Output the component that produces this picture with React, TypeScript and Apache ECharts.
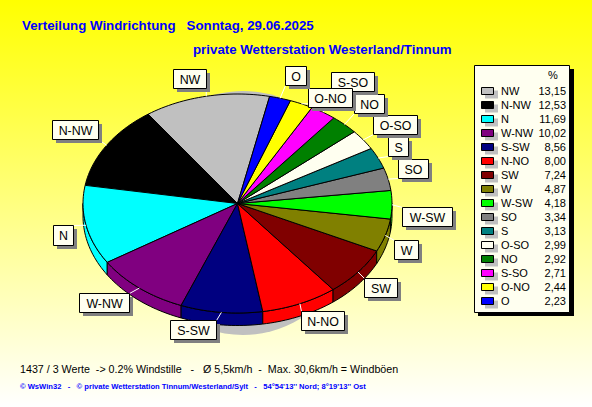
import React, { useEffect, useRef } from "react";
import * as echarts from "echarts";

const categories = ["NW", "N-NW", "N", "W-NW", "S-SW", "N-NO", "SW", "W", "W-SW", "SO", "S", "O-SO", "NO", "S-SO", "O-NO", "O"];
const percentValues = [13.15, 12.53, 11.69, 10.02, 8.56, 8.0, 7.24, 4.87, 4.18, 3.34, 3.13, 2.99, 2.92, 2.71, 2.44, 2.23];
const percentLabels = ["13,15", "12,53", "11,69", "10,02", "8,56", "8,00", "7,24", "4,87", "4,18", "3,34", "3,13", "2,99", "2,92", "2,71", "2,44", "2,23"];
const sliceColors = ["#C0C0C0", "#000000", "#00FFFF", "#800080", "#000080", "#FF0000", "#800000", "#808000", "#00FF00", "#808080", "#008080", "#FFFFF0", "#008000", "#FF00FF", "#FFFF00", "#0000FF"];
// label boxes: x0, y0, x1, y1
const labelBoxes: number[][] = [
  [173.5, 69.5, 206.5, 88.5], [52.5, 120.5, 98.5, 139.5], [53.5, 225.5, 73.5, 245.5], [79.5, 293.5, 129.5, 312.5],
  [170.5, 320.5, 216.5, 339.5], [301.5, 311.5, 344.5, 330.5], [364.5, 278.5, 397.5, 297.5], [394.5, 240.5, 418.5, 259.5],
  [402.5, 207.5, 452.5, 226.5], [398.5, 159.5, 428.5, 178.5], [388.5, 137.5, 408.5, 156.5], [373.5, 115.5, 417.5, 134.5],
  [354.5, 94.5, 384.5, 113.5], [331.5, 72.5, 374.5, 91.5], [308.5, 88.5, 352.5, 107.5], [285.5, 66.5, 306.5, 85.5],
];

const CX = 237.5, CY = 203.5, RX = 154.5, RY = 109.5, DEPTH = 12.5, START_DEG = 12;
const FONT = "'Liberation Sans', Arial, sans-serif";
const BLUE = "#0000FF";

// legend order runs counter-clockwise from the start angle
const total = percentValues.reduce((a, b) => a + b, 0);
const angleRange = (i: number): [number, number] => {
  let after = 0;
  for (let k = 0; k < i; k++) after += percentValues[k];
  const end = START_DEG + 360 - (after / total) * 360;
  return [end - (percentValues[i] / total) * 360, end];
};
const pt = (deg: number, dy = 0): [number, number] => {
  const r = (deg * Math.PI) / 180;
  return [CX + RX * Math.sin(r), CY - RY * Math.cos(r) + dy];
};
const arc = (a0: number, a1: number, dy = 0): [number, number][] => {
  const n = Math.max(2, Math.ceil((a1 - a0) / 1.5));
  const out: [number, number][] = [];
  for (let k = 0; k <= n; k++) out.push(pt(a0 + ((a1 - a0) * k) / n, dy));
  return out;
};
const polyEl = (points: [number, number][], fill: string) => ({
  type: "polygon",
  shape: { points },
  style: { fill, stroke: "#000", lineWidth: 1 },
});

export default function App() {
  const ref = useRef<HTMLDivElement>(null);
  useEffect(() => {
    document.body.style.margin = "0";
    const chart = echarts.init(ref.current!, undefined, { renderer: "svg" });
    const data = percentValues.map((v, i) => ({ name: categories[i], value: v }));

    const legendRows: any[] = [];
    categories.forEach((name, i) => {
      const y = 91 + i * 14;
      legendRows.push(
        { type: "rect", shape: { x: 485, y: y - 0.5, width: 13, height: 8 }, style: { fill: "#C0C0C0" } },
        { type: "rect", shape: { x: 481.5, y: y - 3.5, width: 12, height: 7 }, style: { fill: sliceColors[i], stroke: "#000", lineWidth: 1 } },
        { type: "text", x: 501, y, style: { text: name, font: `11px ${FONT}`, fill: "#000", align: "left", verticalAlign: "middle" } },
        { type: "text", x: 566, y, style: { text: percentLabels[i], font: `11px ${FONT}`, fill: "#000", align: "right", verticalAlign: "middle" } },
      );
    });

    chart.setOption({
      animation: false,
      backgroundColor: new echarts.graphic.LinearGradient(0, 0, 0, 1, [
        { offset: 0, color: "#FFFF00" },
        { offset: 1, color: "#FFFFFF" },
      ]),
      series: [
        {
          type: "custom", coordinateSystem: "none", silent: true, z: 1, data,
          renderItem: (p: any) => {
            const [a0, a1] = angleRange(p.dataIndex);
            const children: any[] = [];
            if (p.dataIndex === 0) {
              children.push({ type: "ellipse", shape: { cx: 243, cy: 213, rx: 115, ry: 122 }, style: { fill: "#C0C0C0" } });
            }
            for (const off of [0, 360]) {
              const s = Math.max(a0, 90 + off), e = Math.min(a1, 270 + off);
              if (e > s) children.push(polyEl([...arc(s, e), ...arc(s, e, DEPTH).reverse()], sliceColors[p.dataIndex]));
            }
            return { type: "group", children };
          },
        },
        {
          type: "custom", coordinateSystem: "none", silent: true, z: 2, data,
          renderItem: (p: any) => {
            const [a0, a1] = angleRange(p.dataIndex);
            return polyEl([[CX, CY], ...arc(a0, a1)], sliceColors[p.dataIndex]);
          },
        },
        {
          type: "custom", coordinateSystem: "none", silent: true, z: 3, data,
          renderItem: (p: any) => {
            const [a0, a1] = angleRange(p.dataIndex);
            const [x, y] = pt((a0 + a1) / 2);
            const [bx0, by0, bx1, by1] = labelBoxes[p.dataIndex];
            const ex = Math.min(Math.max(x, bx0), bx1), ey = Math.min(Math.max(y, by0), by1);
            return {
              type: "group",
              children: [
                { type: "line", shape: { x1: x, y1: y, x2: ex, y2: ey }, style: { stroke: "#FFFFFF", lineWidth: 1 } },
                { type: "rect", shape: { x: bx0 + 3.5, y: by0 + 3.5, width: bx1 - bx0, height: by1 - by0 }, style: { fill: "#808080" } },
                { type: "rect", shape: { x: bx0, y: by0, width: bx1 - bx0, height: by1 - by0 }, style: { fill: "#FFFFF0", stroke: "#000", lineWidth: 1 } },
                { type: "text", x: (bx0 + bx1) / 2, y: (by0 + by1) / 2 + 0.5, style: { text: categories[p.dataIndex], font: `12.4px ${FONT}`, fill: "#000", align: "center", verticalAlign: "middle" } },
              ],
            };
          },
        },
      ],
      graphic: [
        { type: "text", x: 22, y: 25, style: { text: "Verteilung Windrichtung   Sonntag, 29.06.2025", font: `bold 13.3px ${FONT}`, fill: BLUE, verticalAlign: "middle" } },
        { type: "text", x: 193, y: 49, style: { text: "private Wetterstation Westerland/Tinnum", font: `bold 13.3px ${FONT}`, fill: BLUE, verticalAlign: "middle" } },
        { type: "rect", shape: { x: 478, y: 69, width: 96, height: 247 }, style: { fill: "#000" } },
        { type: "rect", shape: { x: 474.5, y: 65.5, width: 95, height: 247 }, style: { fill: "#FFFFF0", stroke: "#000", lineWidth: 1 } },
        { type: "text", x: 553, y: 75, style: { text: "%", font: `11px ${FONT}`, fill: "#000", align: "center", verticalAlign: "middle" } },
        ...legendRows,
        { type: "text", x: 20, y: 369, style: { text: "1437 / 3 Werte  -> 0.2% Windstille   -   Ø 5,5km/h  -  Max. 30,6km/h = Windböen", font: `10.7px ${FONT}`, fill: "#000", verticalAlign: "middle" } },
        { type: "text", x: 20, y: 386, style: { text: "© WsWin32   -   © private Wetterstation Tinnum/Westerland/Sylt   -   54°54'13'' Nord; 8°19'13'' Ost", font: `bold 7.6px ${FONT}`, fill: BLUE, verticalAlign: "middle" } },
      ],
    });
    return () => chart.dispose();
  }, []);
  return <div ref={ref} style={{ width: 592, height: 407 }} />;
}
